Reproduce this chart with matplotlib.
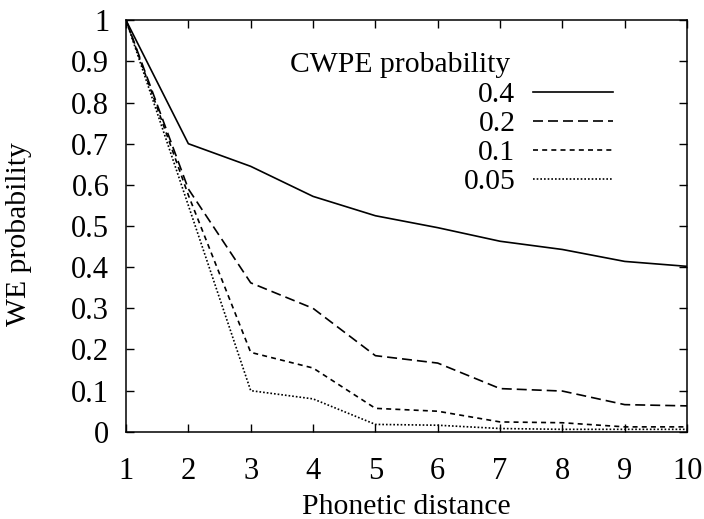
import numpy as np
import matplotlib
matplotlib.use("Agg")
import matplotlib.pyplot as plt

# -------------------------
# Data
# -------------------------
distance = [1, 2, 3, 4, 5, 6, 7, 8, 9, 10]
cwpe_labels = ["0.4", "0.2", "0.1", "0.05"]
we_p04 = [1.0, 0.700, 0.645, 0.572, 0.525, 0.496, 0.463, 0.443, 0.414, 0.402]
we_p02 = [1.0, 0.590, 0.362, 0.300, 0.185, 0.167, 0.105, 0.099, 0.066, 0.063]
we_p01 = [1.0, 0.575, 0.193, 0.155, 0.057, 0.050, 0.024, 0.022, 0.012, 0.012]
we_p005 = [1.0, 0.550, 0.100, 0.080, 0.018, 0.016, 0.008, 0.006, 0.006, 0.006]
y_ticks = [0, 0.1, 0.2, 0.3, 0.4, 0.5, 0.6, 0.7, 0.8, 0.9, 1]

plt.rcParams['font.family'] = ['Liberation Serif', 'DejaVu Serif']
fs = 21.3

fig = plt.figure(figsize=(7.04, 5.19), dpi=100)
ax = fig.add_axes([0.179, 0.168, 0.797, 0.793])

lw = 1.2
styles = [
    dict(linestyle='-'),
    dict(dashes=(6, 3)),
    dict(dashes=(3, 2.5)),
    dict(dashes=(1, 1.2)),
]
series = [we_p04, we_p02, we_p01, we_p005]
for vals, lab, st in zip(series, cwpe_labels, styles):
    ax.plot(distance, vals, color='black', lw=lw, label=lab, **st)

ax.set_xlim(1, 10)
ax.set_ylim(0, 1)
ax.set_xticks(distance)
ax.set_yticks(y_ticks)
ax.set_yticklabels(["%g" % v for v in y_ticks])
ax.tick_params(direction='in', length=5.5, width=1.0, top=True, right=True,
               labelsize=22)
ax.tick_params(axis='y', pad=12)
ax.tick_params(axis='x', pad=18)
for s in ax.spines.values():
    s.set_linewidth(1.1)

ax.set_xlabel("Phonetic distance", fontsize=fs, labelpad=6)
ax.set_ylabel("WE probability", fontsize=fs)
ax.yaxis.set_label_coords(-0.168, 0.48)

leg = ax.legend(loc='upper right', bbox_to_anchor=(0.868, 0.852), frameon=False,
                markerfirst=False, fontsize=fs, handlelength=2.7,
                handletextpad=0.6, labelspacing=0.08, borderpad=0,
                borderaxespad=0)
ax.text(0.685, 0.86, "CWPE probability", transform=ax.transAxes,
        ha='right', va='bottom', fontsize=fs)

plt.savefig("out.png", dpi=100)
plt.close()
